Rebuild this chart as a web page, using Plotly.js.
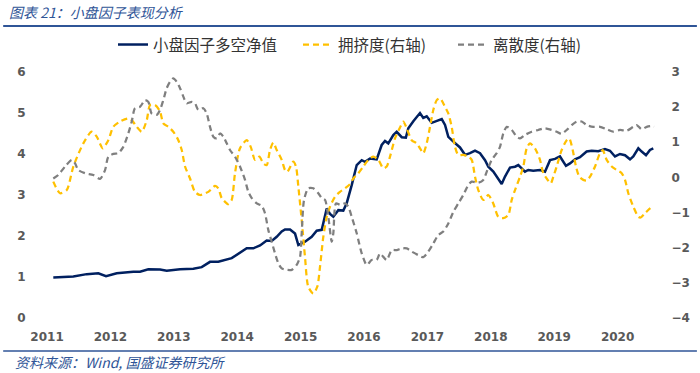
<!DOCTYPE html>
<html>
<head>
<meta charset="utf-8">
<script src="https://cdn.plot.ly/plotly-3.0.1.min.js"></script>
<style>html,body{margin:0;padding:0;background:#fff;}#chart{width:700px;height:373px;}</style>
</head>
<body>
<div id="chart"></div>
<script>
// Tick labels
const yearTicks = [2011, 2012, 2013, 2014, 2015, 2016, 2017, 2018, 2019, 2020];

// 小盘因子多空净值 (left axis)
const netT = [2011.099,2011.415,2011.626,2011.809,2011.931,2012.099,2012.361,2012.467,2012.598,2012.782,2012.888,2013.098,2013.308,2013.440,2013.571,2013.702,2013.913,2014.044,2014.150,2014.254,2014.360,2014.465,2014.544,2014.623,2014.702,2014.754,2014.833,2014.912,2014.964,2015.069,2015.175,2015.254,2015.333,2015.412,2015.464,2015.516,2015.595,2015.673,2015.727,2015.806,2015.885,2015.964,2016.016,2016.095,2016.200,2016.279,2016.331,2016.383,2016.462,2016.516,2016.595,2016.660,2016.699,2016.778,2016.883,2016.935,2016.989,2017.068,2017.226,2017.278,2017.330,2017.410,2017.514,2017.593,2017.672,2017.751,2017.830,2017.909,2017.961,2018.040,2018.118,2018.172,2018.224,2018.303,2018.382,2018.434,2018.487,2018.539,2018.591,2018.670,2018.776,2018.855,2018.934,2019.013,2019.091,2019.186,2019.249,2019.328,2019.407,2019.512,2019.591,2019.696,2019.801,2019.880,2019.959,2020.038,2020.117,2020.196,2020.248,2020.327,2020.380,2020.448,2020.511,2020.563];
const netV = [0.99,1.01,1.07,1.09,1.02,1.09,1.13,1.13,1.19,1.18,1.15,1.19,1.20,1.24,1.37,1.37,1.46,1.60,1.70,1.70,1.77,1.89,1.88,1.98,2.11,2.16,2.16,2.06,1.78,1.86,1.98,2.13,2.15,2.67,2.54,2.47,2.63,2.62,2.80,3.24,3.73,3.85,3.81,3.89,3.87,4.22,4.32,4.26,4.46,4.54,4.41,4.40,4.63,4.80,5.00,4.88,4.92,4.76,4.85,4.71,4.42,4.30,4.16,3.98,4.02,4.08,4.02,3.85,3.69,3.57,3.41,3.27,3.45,3.67,3.69,3.73,3.65,3.57,3.61,3.59,3.61,3.57,3.85,3.88,3.94,3.71,3.77,3.87,3.92,4.06,4.08,4.07,4.12,4.08,3.94,4.00,3.97,3.87,3.94,4.14,4.06,3.97,4.10,4.14];

// 拥挤度(右轴)
const crowdT = [2011.099,2011.205,2011.311,2011.415,2011.573,2011.705,2011.784,2011.879,2011.967,2012.046,2012.151,2012.282,2012.336,2012.415,2012.494,2012.573,2012.625,2012.703,2012.782,2012.834,2012.913,2012.992,2013.071,2013.125,2013.177,2013.256,2013.334,2013.413,2013.544,2013.650,2013.702,2013.756,2013.860,2013.913,2013.965,2014.044,2014.150,2014.213,2014.281,2014.349,2014.412,2014.465,2014.517,2014.569,2014.623,2014.702,2014.754,2014.790,2014.885,2014.927,2014.964,2015.017,2015.069,2015.121,2015.200,2015.263,2015.306,2015.358,2015.412,2015.464,2015.543,2015.621,2015.700,2015.779,2015.831,2015.910,2015.989,2016.068,2016.147,2016.226,2016.304,2016.358,2016.410,2016.489,2016.568,2016.620,2016.674,2016.752,2016.831,2016.883,2016.935,2016.989,2017.041,2017.093,2017.147,2017.199,2017.278,2017.330,2017.383,2017.435,2017.487,2017.566,2017.645,2017.699,2017.751,2017.803,2017.882,2017.961,2018.039,2018.118,2018.197,2018.276,2018.330,2018.382,2018.461,2018.513,2018.566,2018.618,2018.697,2018.776,2018.828,2018.882,2018.945,2018.986,2019.039,2019.118,2019.197,2019.238,2019.292,2019.344,2019.396,2019.459,2019.513,2019.565,2019.644,2019.722,2019.765,2019.828,2019.907,2019.986,2020.065,2020.117,2020.169,2020.248,2020.328,2020.364,2020.432,2020.511,2020.563];
const crowdV = [-0.12,-0.45,-0.36,0.31,0.97,1.30,1.16,0.83,1.06,1.44,1.59,1.68,1.63,1.44,1.30,1.63,2.06,2.06,1.88,1.54,1.44,1.30,1.06,0.78,0.31,-0.03,-0.41,-0.50,-0.41,-0.24,-0.31,-0.59,-0.76,-0.64,0.12,0.83,1.06,0.87,0.50,0.59,0.40,0.35,0.78,0.99,0.78,0.50,0.21,0.16,0.45,0.31,-0.26,-1.21,-2.26,-3.11,-3.30,-3.11,-2.54,-1.69,-1.12,-0.83,-0.55,-0.41,-0.31,-0.19,-0.03,0.12,0.31,0.50,0.59,0.50,0.26,0.31,0.59,1.11,1.42,1.59,1.40,1.06,0.97,0.83,0.69,0.97,1.44,1.92,2.20,2.25,2.01,1.82,1.44,0.87,0.64,0.64,0.59,0.50,0.02,-0.36,-0.64,-0.50,-0.74,-1.12,-1.16,-1.07,-0.64,-0.36,0.02,0.31,0.83,0.97,0.83,0.50,0.12,-0.03,-0.17,0.02,0.31,0.78,1.06,1.11,0.78,0.31,0.02,-0.07,-0.09,0.02,0.31,0.69,0.78,0.50,0.31,0.21,0.12,-0.07,-0.45,-0.83,-1.12,-1.14,-1.02,-0.88,-0.81];

// 离散度(右轴)
const dispT = [2011.099,2011.178,2011.284,2011.390,2011.442,2011.494,2011.599,2011.730,2011.836,2011.915,2011.967,2012.046,2012.125,2012.203,2012.282,2012.336,2012.388,2012.467,2012.546,2012.598,2012.651,2012.730,2012.782,2012.834,2012.888,2012.940,2012.992,2013.046,2013.098,2013.150,2013.203,2013.282,2013.334,2013.386,2013.465,2013.519,2013.571,2013.623,2013.677,2013.729,2013.781,2013.834,2013.886,2013.965,2014.044,2014.123,2014.175,2014.229,2014.308,2014.386,2014.438,2014.491,2014.544,2014.596,2014.648,2014.702,2014.781,2014.860,2014.938,2014.991,2015.017,2015.054,2015.121,2015.200,2015.279,2015.333,2015.385,2015.437,2015.491,2015.516,2015.558,2015.621,2015.700,2015.752,2015.806,2015.885,2015.964,2016.043,2016.121,2016.200,2016.252,2016.304,2016.358,2016.437,2016.516,2016.595,2016.674,2016.752,2016.856,2016.935,2017.014,2017.093,2017.172,2017.251,2017.330,2017.409,2017.487,2017.566,2017.645,2017.699,2017.803,2017.882,2017.935,2018.014,2018.093,2018.145,2018.197,2018.251,2018.330,2018.409,2018.461,2018.539,2018.645,2018.749,2018.855,2018.961,2019.039,2019.118,2019.197,2019.276,2019.355,2019.434,2019.513,2019.617,2019.722,2019.828,2019.932,2020.038,2020.144,2020.248,2020.301,2020.380,2020.459,2020.538,2020.574];
const dispV = [-0.03,0.07,0.31,0.50,0.40,0.21,0.12,0.07,-0.04,0.21,0.59,0.67,0.69,0.87,1.25,1.59,1.97,2.01,2.20,2.15,1.82,1.78,1.92,2.20,2.54,2.72,2.82,2.72,2.54,2.30,2.11,2.15,2.11,1.92,1.97,1.82,1.44,1.16,1.11,1.25,1.16,0.97,0.78,0.59,0.31,-0.07,-0.41,-0.59,-0.74,-0.81,-1.02,-1.50,-1.83,-2.16,-2.44,-2.59,-2.63,-2.63,-2.49,-2.26,-1.59,-0.64,-0.31,-0.31,-0.45,-0.59,-0.64,-1.12,-1.83,-1.59,-0.74,-0.78,-0.74,-0.83,-1.12,-1.59,-2.16,-2.49,-2.35,-2.35,-2.16,-2.26,-2.35,-2.07,-2.07,-2.02,-2.02,-2.11,-2.21,-2.27,-2.11,-1.88,-1.64,-1.54,-1.31,-0.98,-0.74,-0.50,-0.22,-0.12,-0.15,-0.07,0.16,0.50,0.69,0.87,1.25,1.44,1.35,1.16,1.11,1.21,1.30,1.35,1.40,1.35,1.30,1.24,1.35,1.49,1.59,1.59,1.49,1.44,1.44,1.37,1.30,1.35,1.33,1.44,1.49,1.37,1.44,1.46,1.44];

const tickFont = {family: 'DejaVu Sans, sans-serif', size: 12, color: '#595959', weight: 'bold'};
const cjk = 'Noto Sans CJK SC, sans-serif';
const titleBlue = '#2F5597';
const legendFont = {family: cjk, size: 15.5, color: '#333333'};

const traces = [
  {x: netT, y: netV, type: 'scatter', mode: 'lines', name: '小盘因子多空净值', yaxis: 'y', legend: 'legend',
   line: {color: '#002060', width: 2.5}},
  {x: crowdT, y: crowdV, type: 'scatter', mode: 'lines', name: '拥挤度(右轴)', yaxis: 'y2', legend: 'legend2',
   line: {color: '#FFC000', width: 2.25, dash: '6px,4px', shape: 'spline', smoothing: 0.7}},
  {x: dispT, y: dispV, type: 'scatter', mode: 'lines', name: '离散度(右轴)', yaxis: 'y2', legend: 'legend3',
   line: {color: '#7F7F7F', width: 2.25, dash: '6px,4px', shape: 'spline', smoothing: 0.7}}
];

function leg(px) {
  return {orientation: 'h', x: (px - 45) / 615, xanchor: 'left', y: 1.11, yanchor: 'middle',
          font: legendFont, bgcolor: 'rgba(0,0,0,0)'};
}

const layout = {
  width: 700, height: 373,
  margin: {l: 45, r: 40, t: 72, b: 55},
  paper_bgcolor: '#ffffff', plot_bgcolor: '#ffffff',
  showlegend: true,
  title: {text: '图表 21：小盘因子表现分析', x: 9/700, xanchor: 'left', xref: 'container',
          y: 1 - 13/373, yanchor: 'middle', yref: 'container',
          font: {family: cjk, size: 14, color: titleBlue, style: 'italic'}},
  legend: leg(113),
  legend2: leg(298),
  legend3: leg(453),
  xaxis: {range: [2010.968, 2020.669], tickmode: 'array', tickvals: yearTicks,
          ticktext: yearTicks.map(String), showgrid: false, zeroline: false, showline: false,
          ticks: 'outside', ticklen: 8, tickcolor: 'rgba(0,0,0,0)', tickfont: tickFont},
  yaxis: {range: [0, 6], dtick: 1, tick0: 0, showgrid: false, zeroline: false, showline: false,
          ticks: 'outside', ticklen: 16, tickcolor: 'rgba(0,0,0,0)', tickfont: tickFont},
  yaxis2: {range: [-4, 3], dtick: 1, tick0: 0, overlaying: 'y', side: 'right', showgrid: false,
           zeroline: false, showline: false, ticks: 'outside', ticklen: 8,
           tickcolor: 'rgba(0,0,0,0)', tickfont: tickFont},
  shapes: [
    {type: 'line', xref: 'paper', yref: 'paper', x0: -0.068, x1: 1.06, y0: 1.187, y1: 1.187,
     line: {color: titleBlue, width: 2}},
    {type: 'line', xref: 'paper', yref: 'paper', x0: -0.068, x1: 1.06, y0: -0.134, y1: -0.134,
     line: {color: titleBlue, width: 1.5}}
  ],
  annotations: [
    {text: '资料来源：Wind, 国盛证券研究所', xref: 'paper', yref: 'paper',
     x: -0.052, xanchor: 'left', y: -0.178, yanchor: 'middle', showarrow: false,
     font: {family: cjk, size: 14, color: titleBlue, style: 'italic'}}
  ]
};

Plotly.newPlot('chart', traces, layout, {displayModeBar: false, staticPlot: true});
</script>
</body>
</html>
